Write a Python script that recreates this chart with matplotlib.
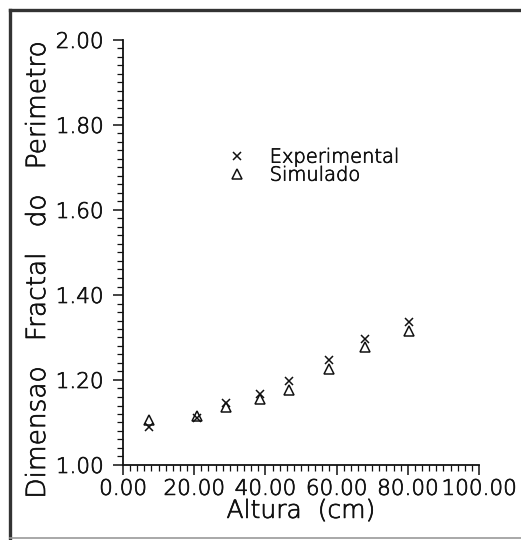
import matplotlib
matplotlib.use("Agg")
import matplotlib.pyplot as plt
import matplotlib.patheffects as pe
from matplotlib.lines import Line2D
from matplotlib.ticker import MultipleLocator, FormatStrFormatter

# Height of the column (cm) and perimeter fractal dimension
altura = [7.4, 20.9, 28.9, 38.6, 46.6, 58.0, 68.1, 80.2]
experimental = [1.090, 1.111, 1.147, 1.167, 1.198, 1.247, 1.296, 1.336]
simulado = [1.106, 1.116, 1.137, 1.156, 1.176, 1.227, 1.277, 1.316]

plt.rcParams['font.family'] = ['DejaVu Sans']

INK = '#111111'
TXT = '#111111'
thin_ink = [pe.withStroke(linewidth=0.5, foreground=TXT)]

W, H, DPI = 521, 540, 100
fig = plt.figure(figsize=(W / DPI, H / DPI), dpi=DPI)
ax = fig.add_axes([123 / W, 75 / H, 356 / W, 425 / H])

ax.plot(altura, experimental, linestyle='none', marker='x', markersize=5.5,
        markeredgewidth=1.1, color=INK, label='Experimental')
ax.plot(altura, simulado, linestyle='none', marker='^', markersize=6.5,
        markerfacecolor='none', markeredgewidth=1.1, color=INK,
        label='Simulado')

ax.set_xlim(0, 100)
ax.set_ylim(1.0, 2.0)
ax.xaxis.set_major_locator(MultipleLocator(20))
ax.xaxis.set_minor_locator(MultipleLocator(2))
ax.yaxis.set_major_locator(MultipleLocator(0.2))
ax.yaxis.set_minor_locator(MultipleLocator(0.02))
ax.xaxis.set_major_formatter(FormatStrFormatter('%.2f'))
ax.yaxis.set_major_formatter(FormatStrFormatter('%.2f'))

for side in ('top', 'right'):
    ax.spines[side].set_visible(False)
for side in ('left', 'bottom'):
    ax.spines[side].set_linewidth(1.3)
    ax.spines[side].set_color(INK)

ax.tick_params(which='major', direction='out', length=7, width=1.1,
               color=INK, labelsize=15.5, labelcolor=TXT, pad=3)
ax.tick_params(which='minor', direction='out', length=4, width=0.9,
               color=INK)
ax.tick_params(axis='y', which='major', pad=7)
for lab in ax.get_xticklabels() + ax.get_yticklabels():
    lab.set_fontweight('light')
    lab.set_path_effects(thin_ink)

xl = ax.set_xlabel('Altura  (cm)', fontsize=18, color=TXT,
                   fontweight='light', labelpad=0)
yl = ax.set_ylabel('Dimensao   Fractal   do   Perimetro', fontsize=19,
                   color=TXT, fontweight='light')
ax.yaxis.set_label_coords(-0.205, 0.459)
xl.set_path_effects(thin_ink)
yl.set_path_effects(thin_ink)

leg = ax.legend(loc='upper left', bbox_to_anchor=(0.27, 0.765), frameon=False,
                fontsize=14, handlelength=1.0, handletextpad=1.2,
                labelspacing=-0.05, borderaxespad=0)
for t in leg.get_texts():
    t.set_color(TXT)
    t.set_fontweight('light')
    t.set_path_effects(thin_ink)

# Page frame around the figure
fig.add_artist(Line2D([10 / W, 1.0], [1 - 10 / H, 1 - 10 / H],
                      transform=fig.transFigure, color='#333333', lw=2.4))
fig.add_artist(Line2D([10 / W, 10 / W], [1 - 10 / H, 0.0],
                      transform=fig.transFigure, color='#333333', lw=2.4))
fig.add_artist(Line2D([10 / W, 1.0], [2 / H, 2 / H],
                      transform=fig.transFigure, color='#999999', lw=1.2))

fig.savefig('out.png', dpi=DPI)
